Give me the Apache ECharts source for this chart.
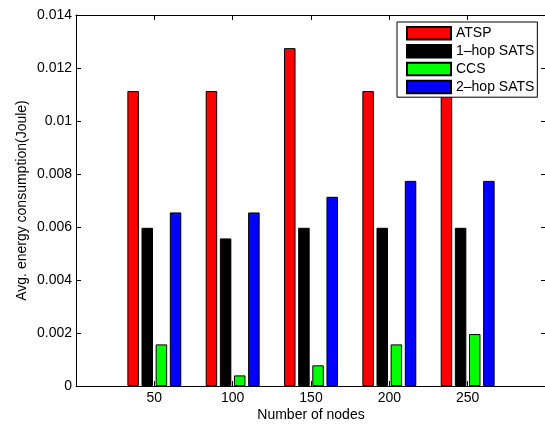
<!DOCTYPE html>
<html>
<head>
<meta charset="utf-8">
<script src="https://cdn.jsdelivr.net/npm/echarts@6/dist/echarts.min.js"></script>
<style>
html,body{margin:0;padding:0;background:#fff;overflow:hidden;}
#chart{width:545px;height:427px;}
</style>
</head>
<body>
<div id="chart"></div>
<script>
var nodes = [50, 100, 150, 200, 250];
var seriesNames = ['ATSP', '1\u2013hop SATS', 'CCS', '2\u2013hop SATS'];
var atsp = [0.01113, 0.01113, 0.01275, 0.01113, 0.01113];
var hop1 = [0.00597, 0.00557, 0.00597, 0.00597, 0.00597];
var ccs = [0.00157, 0.00040, 0.00078, 0.00157, 0.00196];
var hop2 = [0.00655, 0.00655, 0.00714, 0.00774, 0.00774];
var yTicks = [0, 0.002, 0.004, 0.006, 0.008, 0.01, 0.012, 0.014];
var colors = ['#ff0000', '#000000', '#00ff00', '#0000ff'];

var FONT = 'Liberation Sans, Arial, Helvetica, sans-serif';
var FS = 14;
var chart = echarts.init(document.getElementById('chart'), null, {renderer: 'canvas'});

function mk(name, vals, color) {
  return {
    name: name,
    type: 'bar',
    data: nodes.map(function (n, i) { return [n, vals[i]]; }),
    barWidth: 11.5,
    barGap: '23%',
    itemStyle: {color: color, borderColor: '#000', borderWidth: 1},
    emphasis: {disabled: true},
    animation: false
  };
}

function axisCommon() {
  return {
    axisLine: {show: true, onZero: false, lineStyle: {color: '#000', width: 1}},
    axisTick: {show: true, inside: true, length: 5, lineStyle: {color: '#000'}},
    splitLine: {show: false}
  };
}

var rightAxis = {
  type: 'value', position: 'right', min: 0, max: 0.014, interval: 0.002,
  axisLine: {show: true, onZero: false, lineStyle: {color: 'rgba(0,0,0,0)', width: 1}},
  axisTick: {show: true, inside: true, length: 5, lineStyle: {color: '#000'}},
  axisLabel: {show: false},
  splitLine: {show: false}
};

chart.setOption({
  animation: false,
  textStyle: {fontFamily: FONT},
  grid: {left: 76, top: 15, right: -1, bottom: 41, containLabel: false, outerBoundsMode: 'none'},
  legend: {
    orient: 'vertical',
    left: 397,
    top: 22,
    padding: [4, 3, 3, 9],
    itemWidth: 44,
    itemHeight: 12.5,
    itemGap: 3.4,
    icon: 'rect',
    borderColor: '#000',
    borderWidth: 1,
    borderRadius: 0,
    backgroundColor: '#fff',
    textStyle: {fontFamily: FONT, fontSize: FS, lineHeight: 14, color: '#000'},
    data: seriesNames,
    selectedMode: false
  },
  xAxis: [
    Object.assign(axisCommon(), {
      type: 'value', position: 'bottom', min: 0, max: 300, interval: 50,
      name: 'Number of nodes', nameLocation: 'middle', nameGap: 22,
      nameMoveOverlap: false,
      nameTextStyle: {fontFamily: FONT, fontSize: FS, color: '#000'},
      axisLabel: {
        fontFamily: FONT, fontSize: FS, color: '#000', margin: 5,
        formatter: function (v) { return nodes.indexOf(v) >= 0 ? String(v) : ''; }
      }
    }),
    Object.assign(axisCommon(), {
      type: 'value', position: 'top', min: 0, max: 300, interval: 50,
      axisLabel: {show: false}
    })
  ],
  yAxis: [
    Object.assign(axisCommon(), {
      type: 'value', position: 'left', min: 0, max: 0.014, interval: 0.002,
      name: 'Avg. energy consumption(Joule)', nameLocation: 'middle', nameGap: 47,
      nameMoveOverlap: false,
      nameTextStyle: {fontFamily: FONT, fontSize: FS, color: '#000'},
      axisLabel: {
        fontFamily: FONT, fontSize: FS, color: '#000', margin: 4,
        formatter: function (v) {
          for (var i = 0; i < yTicks.length; i++) {
            if (Math.abs(yTicks[i] - v) < 1e-9) return String(yTicks[i]);
          }
          return '';
        }
      }
    }),
    rightAxis
  ],
  series: [
    mk(seriesNames[0], atsp, colors[0]),
    mk(seriesNames[1], hop1, colors[1]),
    mk(seriesNames[2], ccs, colors[2]),
    mk(seriesNames[3], hop2, colors[3])
  ]
});
</script>
</body>
</html>
